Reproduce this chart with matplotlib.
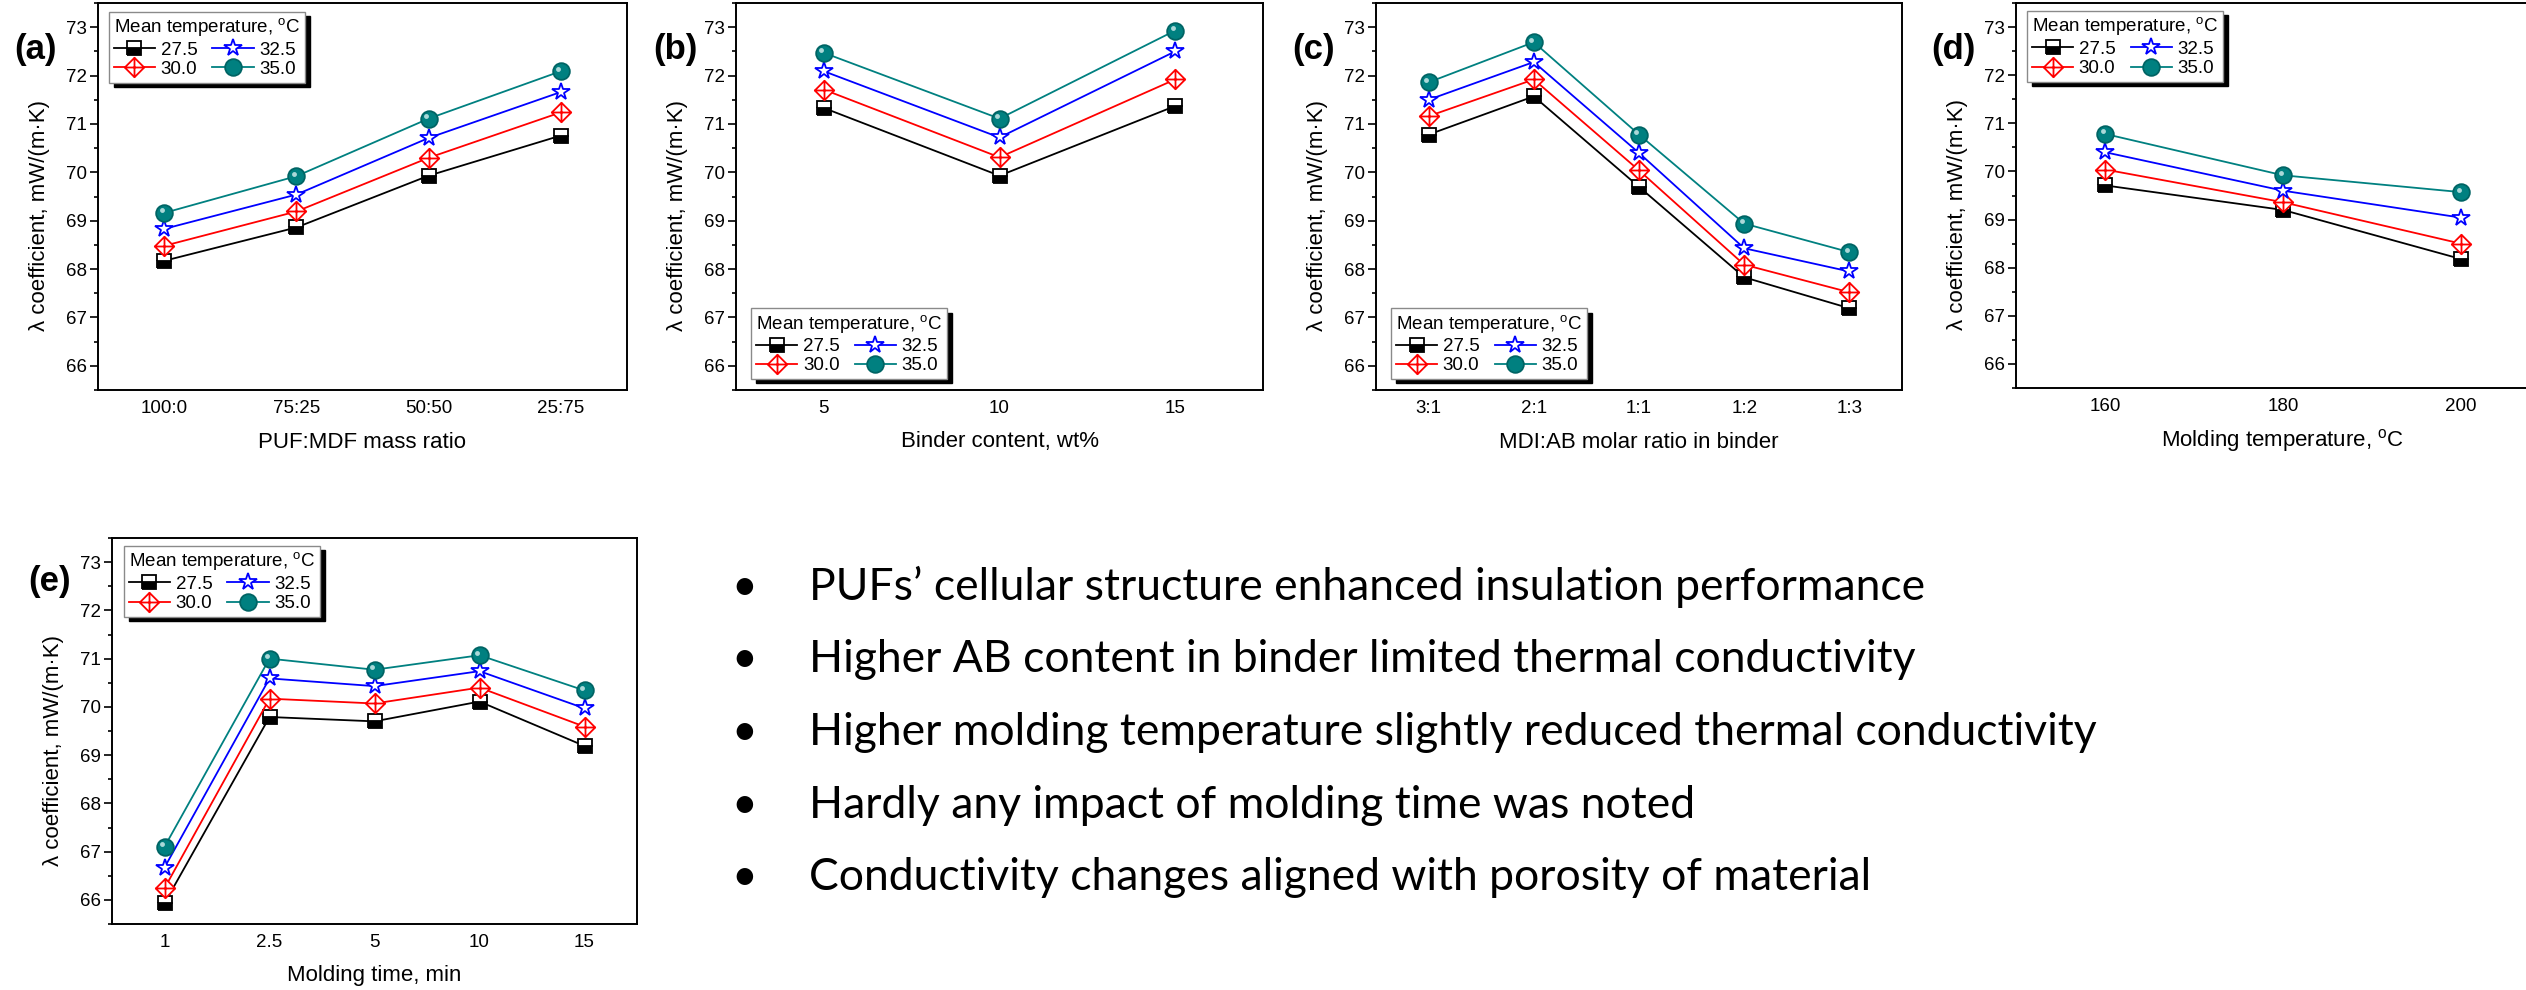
import matplotlib
matplotlib.use('Agg')
import matplotlib.pyplot as plt
from matplotlib.path import Path
from matplotlib import transforms
import numpy as np

plt.rcParams['font.family'] = ['Liberation Sans', 'DejaVu Sans']

W, H = 2526, 990
DPI = 100

series_labels = ['27.5', '30.0', '32.5', '35.0']
legend_title = r'Mean temperature, $^{\mathregular{o}}$C'
ylabel_text = 'λ coefficient, mW/(m·K)'

# (a) PUF:MDF mass ratio
a_cats = ['100:0', '75:25', '50:50', '25:75']
a_275 = [68.17, 68.86, 69.93, 70.76]
a_300 = [68.48, 69.19, 70.30, 71.24]
a_325 = [68.83, 69.54, 70.71, 71.66]
a_350 = [69.16, 69.92, 71.11, 72.09]

# (b) Binder content
b_x = [5, 10, 15]
b_275 = [71.33, 69.93, 71.37]
b_300 = [71.71, 70.31, 71.92]
b_325 = [72.09, 70.72, 72.50]
b_350 = [72.47, 71.11, 72.93]

# (c) MDI:AB molar ratio
c_cats = ['3:1', '2:1', '1:1', '1:2', '1:3']
c_275 = [70.78, 71.57, 69.70, 67.83, 67.19]
c_300 = [71.16, 71.92, 70.04, 68.09, 67.52]
c_325 = [71.50, 72.28, 70.40, 68.43, 67.95]
c_350 = [71.86, 72.69, 70.78, 68.94, 68.35]

# (d) Molding temperature
d_x = [160, 180, 200]
d_275 = [69.71, 69.20, 68.18]
d_300 = [70.04, 69.36, 68.50]
d_325 = [70.40, 69.60, 69.04]
d_350 = [70.78, 69.92, 69.57]

# (e) Molding time
e_cats = ['1', '2.5', '5', '10', '15']
e_275 = [65.93, 69.79, 69.70, 70.11, 69.19]
e_300 = [66.24, 70.17, 70.07, 70.40, 69.59]
e_325 = [66.67, 70.59, 70.43, 70.74, 69.97]
e_350 = [67.10, 71.00, 70.77, 71.07, 70.34]

bullets = [
    'PUFs’ cellular structure enhanced insulation performance',
    'Higher AB content in binder limited thermal conductivity',
    'Higher molding temperature slightly reduced thermal conductivity',
    'Hardly any impact of molding time was noted',
    'Conductivity changes aligned with porosity of material',
]

fig = plt.figure(figsize=(W / DPI, H / DPI), dpi=DPI)
fig.patch.set_facecolor('white')


def fx(px):
    return px / W


def fy(py):
    return 1 - py / H


def add_axes_px(left, top, right, bottom):
    return fig.add_axes([left / W, 1 - bottom / H, (right - left) / W, (bottom - top) / H])


diam_cross = Path(
    [(0, 1), (1, 0), (0, -1), (-1, 0), (0, 1), (0, 1), (0, -1), (-1, 0), (1, 0)],
    [Path.MOVETO, Path.LINETO, Path.LINETO, Path.LINETO, Path.CLOSEPOLY,
     Path.MOVETO, Path.LINETO, Path.MOVETO, Path.LINETO])

styles = [
    dict(color='black', marker='s', ms=9.5, mfc='black', mfcalt='white',
         fillstyle='bottom', mec='black'),
    dict(color='red', marker=diam_cross, ms=14, mfc='white', mec='red'),
    dict(color='blue', marker='*', ms=13, mfc='white', mec='blue'),
    dict(color='#008080', marker='o', ms=12, mfc='#008080', mec='#006464'),
]


def panel(box, x, ys, xlim, xticks, xticklabels, xlabel, letter, letter_xy,
          leg_loc, leg_anchor):
    left, top, right, bottom = box
    ax = add_axes_px(left, top, right, bottom)
    for y, lab, st in zip(ys, series_labels, styles):
        ax.plot(x, y, label=lab, lw=1.3, mew=1.3, zorder=3, **st)
    # highlight on the teal spheres
    hl = transforms.offset_copy(ax.transData, fig=fig, x=-1.8, y=1.8, units='points')
    ax.plot(x, ys[3], ls='none', marker='o', ms=3.5, mfc='#bfe3e3', mec='none',
            alpha=0.9, transform=hl, zorder=4)
    ax.set_xlim(*xlim)
    ax.set_ylim(65.5, 73.5)
    ax.set_xticks(xticks)
    ax.set_xticklabels(xticklabels)
    ax.set_yticks(np.arange(66, 74, 1))
    ax.set_yticks(np.arange(65.5, 73.6, 0.5), minor=True)
    ax.tick_params(axis='y', which='major', direction='out', length=5.8, width=1.2,
                   labelsize=13.5, pad=2)
    ax.tick_params(axis='y', which='minor', direction='out', length=3, width=1.2)
    ax.tick_params(axis='x', which='both', length=0, labelsize=13.5, pad=7)
    for sp in ax.spines.values():
        sp.set_linewidth(1.4)
    leg = ax.legend(loc=leg_loc, bbox_to_anchor=leg_anchor, ncol=2,
                    title=legend_title, title_fontsize=13.5, fontsize=13.5,
                    alignment='left', frameon=True, fancybox=False,
                    shadow={'ox': 3.5, 'oy': -3.0, 'facecolor': 'black',
                            'edgecolor': 'black', 'alpha': 1.0},
                    edgecolor='#8a8a8a', framealpha=1, borderpad=0.25,
                    labelspacing=0.12, handlelength=2.2, handletextpad=0.3,
                    columnspacing=0.8, borderaxespad=0)
    leg.get_frame().set_linewidth(1.0)
    # labels
    cx = (left + min(right, W + 30)) / 2 if right <= W else (left + right) / 2
    fig.text(fx(cx), fy(bottom + 52), xlabel, ha='center', va='center', fontsize=16)
    fig.text(fx(left - 58), fy((top + bottom) / 2 + 19), ylabel_text, rotation=90,
             ha='center', va='center', fontsize=16)
    fig.text(fx(letter_xy[0]), fy(letter_xy[1]), letter, ha='center', va='center',
             fontsize=25, fontweight='bold')
    return ax


panel((98, 3, 627, 390), np.arange(len(a_cats)), [a_275, a_300, a_325, a_350],
      (-0.5, len(a_cats) - 0.5), np.arange(len(a_cats)), a_cats,
      'PUF:MDF mass ratio', '(a)', (35, 49), 'upper left', (0.021, 0.977))

panel((736, 3, 1263, 390), b_x, [b_275, b_300, b_325, b_350],
      (2.5, 17.5), b_x, [str(v) for v in b_x],
      'Binder content, wt%', '(b)', (675, 49), 'lower left', (0.029, 0.028))

panel((1376, 3, 1902, 390), np.arange(len(c_cats)), [c_275, c_300, c_325, c_350],
      (-0.5, len(c_cats) - 0.5), np.arange(len(c_cats)), c_cats,
      'MDI:AB molar ratio in binder', '(c)', (1314, 49), 'lower left', (0.029, 0.028))

panel((2016, 3, 2550, 388), d_x, [d_275, d_300, d_325, d_350],
      (150, 210), d_x, [str(v) for v in d_x],
      r'Molding temperature, $^{\mathregular{o}}$C', '(d)', (1953, 49),
      'upper left', (0.021, 0.979))

panel((112, 538, 637, 924), np.arange(len(e_cats)), [e_275, e_300, e_325, e_350],
      (-0.5, len(e_cats) - 0.5), np.arange(len(e_cats)), e_cats,
      'Molding time, min', '(e)', (50, 581), 'upper left', (0.023, 0.979))

# bullet list
bullet_family = ['Lato', 'DejaVu Sans']
fs = 28
probe = fig.text(fx(809), fy(745), bullets[2], fontsize=fs, family=bullet_family)
fig.canvas.draw()
wpx = probe.get_window_extent(renderer=fig.canvas.get_renderer()).width
probe.remove()
fs = fs * 1288 / wpx

baselines = [600, 672, 745, 818, 890]
for txt, yb in zip(bullets, baselines):
    fig.text(fx(744), fy(yb), '•', fontsize=fs, family=bullet_family,
             ha='center', va='baseline')
    fig.text(fx(809), fy(yb), txt, fontsize=fs, family=bullet_family,
             ha='left', va='baseline')

fig.savefig('out.png', dpi=DPI, facecolor='white')
